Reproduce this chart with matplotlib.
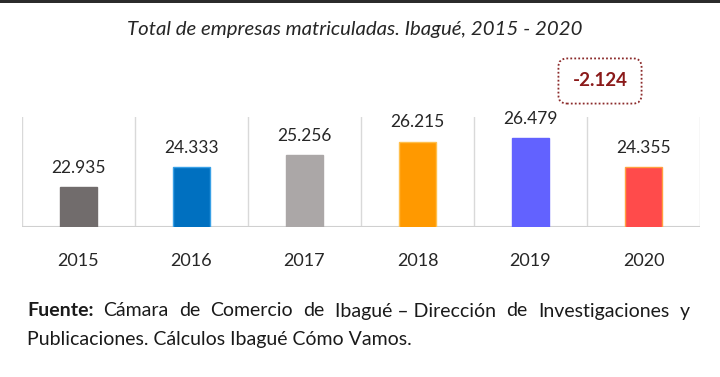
import matplotlib
matplotlib.use("Agg")
import matplotlib.pyplot as plt
from matplotlib.patches import Rectangle

years = ["2015", "2016", "2017", "2018", "2019", "2020"]
values = [22935, 24333, 25256, 26215, 26479, 24355]
labels = ["22.935", "24.333", "25.256", "26.215", "26.479", "24.355"]
colors = ["#716c6c", "#0070c0", "#aba7a7", "#ff9900", "#6262ff", "#ff4b4b"]
edges = ["#716c6c", "#39a0e6", "#aba7a7", "#ffc04d", "#6262ff", "#ffa040"]
title = "Total de empresas matriculadas. Ibagué, 2015 - 2020"
change_label = "-2.124"
source_bold = "Fuente:"
source_words1 = ["Cámara", "de", "Comercio", "de", "Ibagué – Dirección", "de",
                 "Investigaciones", "y"]
source_line2 = "Publicaciones. Cálculos Ibagué Cómo Vamos."

plt.rcParams['font.family'] = ['Lato', 'DejaVu Sans']

fig = plt.figure(figsize=(7.2, 3.77), dpi=100)
fig.patch.set_facecolor("white")
ax = fig.add_axes([22/720, 1-227/377, (700-22)/720, (227-117)/377])

x = list(range(len(years)))
ax.bar(x, values, width=0.32, color=colors, edgecolor=edges, linewidth=1.0, zorder=3)
ax.set_xlim(-0.5, len(years)-0.5)
ax.set_ylim(20000, 28000)

for i in range(len(years)+1):
    ax.axvline(i-0.5, color="#d9d9d9", linewidth=1.0, zorder=1)
for s in ax.spines.values():
    s.set_visible(False)
ax.axhline(20000, color="#d0d0d0", linewidth=1.5, zorder=2)

for xi, v, lab in zip(x, values, labels):
    ax.annotate(lab, (xi, v), xytext=(0, 8), textcoords="offset points",
                ha="center", va="bottom", fontsize=12.5, color="#262626")

ax.set_yticks([])
ax.set_xticks(x)
ax.set_xticklabels(years, fontsize=13, color="#262626")
ax.tick_params(axis="x", length=0, pad=19)

fig.text(355/720, 1-30/377, title, ha="center", va="center", fontsize=14.7,
         style="italic", color="#262626")

fig.text(600/720, 1-81/377, change_label, ha="center", va="center", fontsize=13.5,
         fontweight="bold", color="#8b1a1a",
         bbox=dict(boxstyle="round,pad=0.75,rounding_size=0.45", facecolor="white",
                   edgecolor="#8b2a2a", linestyle=(0, (1, 1.2)), linewidth=1.3))

# top dark strip
fig.add_artist(Rectangle((0, 1-3/377), 1, 3/377, transform=fig.transFigure,
                         facecolor="#2b2b2b", edgecolor="none"))

fs = 14
fig.text(27/720, 1-311/377, source_bold, ha="left", va="center", fontsize=fs,
         fontweight="bold", color="#1a1a1a")
# justified first line
renderer = fig.canvas.get_renderer()
objs = [fig.text(0, 1-311/377, w, ha="left", va="center", fontsize=fs, color="#1a1a1a")
        for w in source_words1]
widths = [o.get_window_extent(renderer).width for o in objs]
x0, x1 = 103, 690
gap = (x1 - x0 - sum(widths)) / (len(source_words1) - 1)
cur = x0
for o, w in zip(objs, widths):
    o.set_x(cur/720)
    cur += w + gap
fig.text(27/720, 1-340/377, source_line2, ha="left", va="center", fontsize=fs,
         color="#1a1a1a")

fig.savefig("out.png", dpi=100)
